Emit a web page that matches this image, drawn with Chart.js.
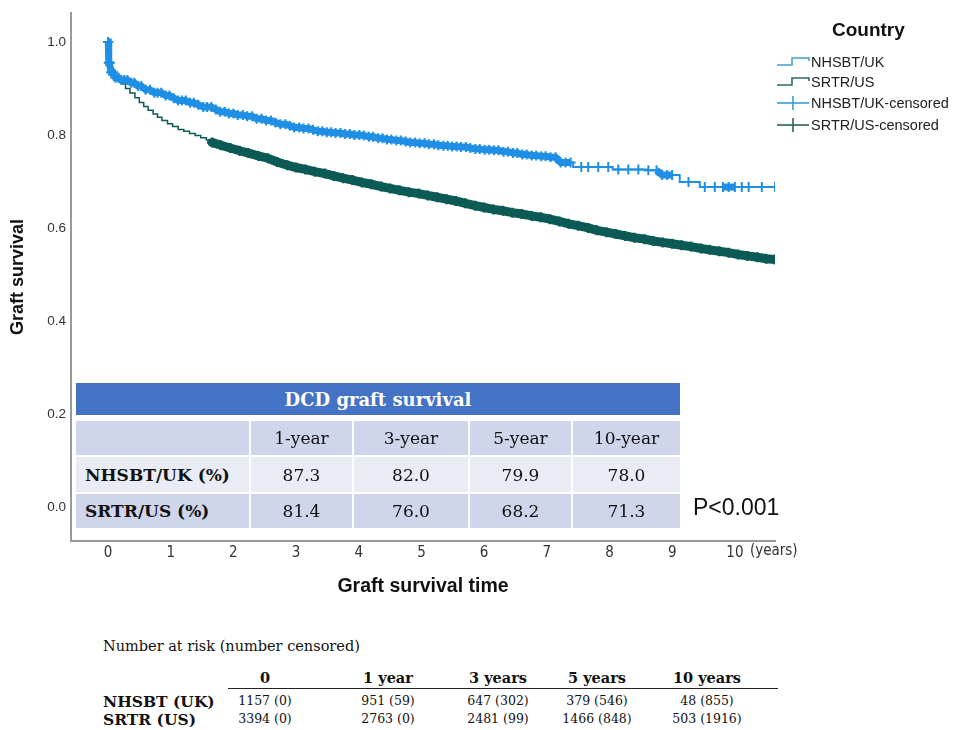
<!DOCTYPE html>
<html>
<head>
<meta charset="utf-8">
<script src="https://cdn.jsdelivr.net/npm/chart.js@4.4.1/dist/chart.umd.min.js"></script>
<style>
  html, body { margin:0; padding:0; background:#fff; }
  body { width:964px; height:730px; position:relative; overflow:hidden; }
  #wrap { position:absolute; left:0; top:0; width:964px; height:600px; }
  .abs { position:absolute; white-space:nowrap; }
  .leg { font-family:"Liberation Sans", Arial, sans-serif; font-size:14.5px; color:#222; }
  .cell { position:absolute; box-sizing:border-box; display:flex; align-items:center; justify-content:center;
          font-family:"DejaVu Serif", "Liberation Serif", serif; font-size:17px; color:#111; }
  .risk { font-family:"DejaVu Serif", "Liberation Serif", serif; color:#111; }
</style>
</head>
<body>
<div id="wrap"><canvas id="c" width="964" height="600"></canvas></div>
<div id="legend"></div>
<div id="dcd"></div>
<div class="abs" style="left:693px;top:494px;font-family:'Liberation Sans',Arial,sans-serif;font-size:23px;color:#111;">P&lt;0.001</div>
<div id="risk"></div>
<script>
// ---------------- data ----------------
const ukTime = [0, 0.01, 0.04, 0.11, 0.2, 0.32, 0.45, 0.59, 0.72, 0.86, 1.0, 1.12, 1.25, 1.39, 1.52, 1.66, 1.78, 1.91, 2.05, 2.18, 2.34, 2.5, 2.61, 2.72, 2.84, 2.95, 3.08, 3.22, 3.35, 3.49, 3.62, 3.75, 3.88, 4.02, 4.15, 4.28, 4.42, 4.55, 4.68, 4.82, 4.95, 5.09, 5.22, 5.35, 5.48, 5.61, 5.73, 5.85, 5.97, 6.09, 6.27, 6.46, 6.6, 6.75, 6.88, 7.0, 7.16, 7.42, 8.05, 8.6, 8.8, 9.12, 9.44, 10.64];
const ukSurv = [1.0, 0.955, 0.935, 0.923, 0.918, 0.912, 0.905, 0.897, 0.891, 0.885, 0.879, 0.874, 0.869, 0.865, 0.86, 0.855, 0.85, 0.846, 0.843, 0.84, 0.835, 0.831, 0.827, 0.823, 0.82, 0.816, 0.814, 0.811, 0.808, 0.806, 0.804, 0.802, 0.8, 0.799, 0.796, 0.793, 0.79, 0.788, 0.786, 0.784, 0.782, 0.78, 0.778, 0.777, 0.775, 0.774, 0.772, 0.77, 0.768, 0.767, 0.764, 0.761, 0.758, 0.756, 0.754, 0.752, 0.741, 0.731, 0.726, 0.724, 0.714, 0.699, 0.688, 0.688];

const usTime = [0, 0.01, 0.04, 0.08, 0.11, 0.16, 0.22, 0.28, 0.35, 0.43, 0.5, 0.57, 0.64, 0.72, 0.79, 0.86, 0.95, 1.03, 1.12, 1.21, 1.3, 1.39, 1.48, 1.57, 1.66, 1.8, 1.95, 2.1, 2.24, 2.4, 2.55, 2.7, 2.86, 3.0, 3.15, 3.3, 3.46, 3.6, 3.75, 3.9, 4.05, 4.2, 4.36, 4.5, 4.65, 4.8, 4.96, 5.1, 5.25, 5.4, 5.55, 5.7, 5.86, 6.0, 6.15, 6.3, 6.45, 6.6, 6.76, 6.9, 7.05, 7.2, 7.35, 7.5, 7.66, 7.8, 7.95, 8.1, 8.25, 8.4, 8.56, 8.7, 8.85, 9.0, 9.15, 9.3, 9.46, 9.6, 9.75, 9.9, 10.05, 10.2, 10.36, 10.5, 10.64];
const usSurv = [1.0, 0.955, 0.935, 0.926, 0.922, 0.916, 0.91, 0.9, 0.89, 0.88, 0.87, 0.861, 0.853, 0.845, 0.838, 0.831, 0.824, 0.818, 0.812, 0.808, 0.803, 0.799, 0.794, 0.789, 0.784, 0.778, 0.772, 0.766, 0.761, 0.755, 0.75, 0.742, 0.735, 0.73, 0.726, 0.721, 0.717, 0.712, 0.707, 0.703, 0.698, 0.694, 0.689, 0.685, 0.681, 0.677, 0.674, 0.67, 0.666, 0.662, 0.658, 0.653, 0.648, 0.644, 0.64, 0.637, 0.633, 0.63, 0.626, 0.623, 0.619, 0.614, 0.609, 0.605, 0.6, 0.595, 0.591, 0.587, 0.583, 0.579, 0.576, 0.572, 0.569, 0.566, 0.563, 0.56, 0.556, 0.553, 0.55, 0.547, 0.543, 0.54, 0.537, 0.534, 0.532];

// censoring times (years)
const ukCensorTimes = [0, 0.005, 0.012, 0.02, 0.03, 0.05, 0.08, 0.12, 0.17, 0.21, 0.26, 0.31, 0.37, 0.42, 0.48, 0.53, 0.6, 0.67, 0.74, 0.79, 0.85, 0.92, 0.98, 1.05, 1.12, 1.18, 1.24, 1.31, 1.37, 1.44, 1.52, 1.58, 1.65, 1.72, 1.79, 1.86, 1.93, 2.0, 2.07, 2.15, 2.22, 2.3, 2.37, 2.45, 2.52, 2.6, 2.67, 2.75, 2.83, 2.9, 2.97, 3.05, 3.12, 3.2, 3.27, 3.35, 3.42, 3.49, 3.56, 3.63, 3.71, 3.78, 3.86, 3.93, 4.01, 4.08, 4.16, 4.23, 4.31, 4.38, 4.45, 4.52, 4.6, 4.67, 4.75, 4.82, 4.9, 4.97, 5.05, 5.12, 5.2, 5.27, 5.35, 5.42, 5.49, 5.56, 5.63, 5.71, 5.78, 5.86, 5.93, 6.01, 6.08, 6.16, 6.23, 6.31, 6.38, 6.46, 6.53, 6.61, 6.68, 6.76, 6.83, 6.91, 6.98, 7.06, 7.14, 7.22, 7.3, 7.38, 7.55, 7.66, 7.82, 7.98, 8.14, 8.3, 8.46, 8.62, 8.75, 8.84, 8.92, 9.0, 9.26, 9.52, 9.68, 9.81, 9.9, 10.0, 10.11, 10.22, 10.43, 10.64];
const usCensorTimes = [1.66, 1.8, 1.95, 2.1, 2.24, 2.4, 2.55, 2.7, 2.86, 3.0, 3.15, 3.3, 3.46, 3.6, 3.75, 3.9, 4.05, 4.2, 4.36, 4.5, 4.65, 4.8, 4.96, 5.1, 5.25, 5.4, 5.55, 5.7, 5.86, 6.0, 6.15, 6.3, 6.45, 6.6, 6.76, 6.9, 7.05, 7.2, 7.35, 7.5, 7.66, 7.8, 7.95, 8.1, 8.25, 8.4, 8.56, 8.7, 8.85, 9.0, 9.15, 9.3, 9.46, 9.6, 9.75, 9.9, 10.05, 10.2, 10.36, 10.5, 10.64];

const xTicks = [0, 1, 2, 3, 4, 5, 6, 7, 8, 9, 10];
const yTicks = [0, 0.2, 0.4, 0.6, 0.8, 1.0];

const seriesNames = ['NHSBT/UK', 'SRTR/US', 'NHSBT/UK-censored', 'SRTR/US-censored'];

const dcdTitle = 'DCD graft survival';
const dcdCols = ['1-year', '3-year', '5-year', '10-year'];
const dcdRows = ['NHSBT/UK (%)', 'SRTR/US (%)'];
const ukPct = [87.3, 82.0, 79.9, 78.0];
const usPct = [81.4, 76.0, 68.2, 71.3];

const riskCols = ['0', '1 year', '3 years', '5 years', '10 years'];
const riskRows = ['NHSBT (UK)', 'SRTR (US)'];
const ukRisk = ['1157 (0)', '951 (59)', '647 (302)', '379 (546)', '48 (855)'];
const usRisk = ['3394 (0)', '2763 (0)', '2481 (99)', '1466 (848)', '503 (1916)'];

// ---------------- helpers ----------------
const UK_COL = '#1f8fe6';
const US_COL = '#0b5a55';
// Kaplan-Meier step value at time t (value holds until the next event time)
function stepAt(times, surv, t) {
  let v = surv[0];
  for (let i = 0; i < times.length; i++) if (times[i] <= t) v = surv[i];
  return v;
}
const curve = (times, surv) => times.map((t, i) => ({x: t, y: surv[i]}));
const marks = (ct, times, surv) => ct.map(t => ({x: t, y: stepAt(times, surv, t)}));
// band is drawn only where censoring marks are dense
function denseColor(limit, col) {
  return ctx => (ctx.p1.parsed.x - ctx.p0.parsed.x <= limit ? col : 'rgba(0,0,0,0)');
}

const yearsPlugin = {
  id: 'yearsLabel',
  afterDraw(chart) {
    const xs = chart.scales.x;
    const ctx = chart.ctx;
    ctx.save();
    ctx.font = '15px "Liberation Sans Narrow", "DejaVu Sans Condensed", Arial, sans-serif';
    ctx.fillStyle = '#333';
    ctx.textBaseline = 'top';
    ctx.textAlign = 'left';
    const px = xs.getPixelForValue(xTicks[xTicks.length - 1]);
    ctx.fillText('(years)', px + 15, xs.top + 3);
    ctx.restore();
  }
};

new Chart(document.getElementById('c'), {
  type: 'line',
  data: {
    datasets: [
      { label: seriesNames[2], data: marks(ukCensorTimes, ukTime, ukSurv), showLine: true,
        borderColor: UK_COL, backgroundColor: UK_COL, pointStyle: 'cross', pointRadius: 5, pointBorderWidth: 2,
        pointBorderColor: UK_COL,
        borderWidth: 7, segment: { borderColor: denseColor(0.1, UK_COL) } },
      { label: seriesNames[0], data: curve(ukTime, ukSurv), stepped: 'before', borderColor: UK_COL,
        borderWidth: 2, pointRadius: 0 },
      { label: seriesNames[3], data: marks(usCensorTimes, usTime, usSurv), showLine: true,
        borderColor: US_COL, backgroundColor: US_COL, pointStyle: 'cross', pointRadius: 5, pointBorderWidth: 2.5,
        pointBorderColor: US_COL,
        borderWidth: 9, borderCapStyle: 'round', segment: { borderColor: denseColor(0.3, US_COL) } },
      { label: seriesNames[1], data: curve(usTime, usSurv), stepped: 'before', borderColor: US_COL,
        borderWidth: 1.5, pointRadius: 0 }
    ]
  },
  options: {
    responsive: false,
    animation: false,
    devicePixelRatio: 1,
    layout: { padding: { left: 0, right: 189, top: 10, bottom: 2 } },
    plugins: { legend: { display: false }, tooltip: { enabled: false } },
    scales: {
      x: {
        type: 'linear', min: -0.59, max: 10.64,
        afterBuildTicks: s => { s.ticks = xTicks.map(v => ({value: v})); },
        afterFit: s => { s.height = 57; },
        grid: { display: false, drawTicks: false },
        border: { display: true, color: '#9a9a9a', width: 2 },
        ticks: { padding: 3, color: '#333', maxRotation: 0, autoSkip: false,
                 font: { family: '"Liberation Sans Narrow", "DejaVu Sans Condensed", Arial, sans-serif', size: 15 } },
        title: { display: true, text: 'Graft survival time', color: '#111', padding: { top: 0, bottom: 1 },
                 font: { family: '"Liberation Sans", Arial, sans-serif', size: 19.5, weight: 'bold', lineHeight: 1.1 } }
      },
      y: {
        type: 'linear', min: -0.073, max: 1.062,
        afterBuildTicks: s => { s.ticks = yTicks.map(v => ({value: v})); },
        afterFit: s => { s.width = 71; },
        grid: { display: false, drawTicks: false },
        border: { display: true, color: '#9a9a9a', width: 2 },
        ticks: { padding: 5, color: '#333', callback: v => v.toFixed(1),
                 font: { family: '"Liberation Sans", Arial, sans-serif', size: 13.5 } },
        title: { display: true, text: 'Graft survival', color: '#111', padding: { top: 7, bottom: 0 },
                 font: { family: '"Liberation Sans", Arial, sans-serif', size: 18, weight: 'bold', lineHeight: 1.2 } }
      }
    }
  },
  plugins: [yearsPlugin]
});

// ---------------- legend (HTML) ----------------
(function () {
  const L = document.getElementById('legend');
  let html = '<div class="abs" style="left:832px;top:19px;font-family:\'Liberation Sans\',Arial,sans-serif;font-size:19px;font-weight:bold;color:#111;">Country</div>';
  const rowsY = [62, 82, 103, 125];
  const iconCols = ['#4a9fd2', '#2e6a68', '#3a9ad8', '#2f5f5c'];
  seriesNames.forEach((name, i) => {
    const y = rowsY[i];
    let svg;
    if (i < 2) {
      svg = '<svg width="34" height="16" style="position:absolute;left:776px;top:' + (y - 8) + 'px"><polyline points="1,11 16,11 16,4 33,4 33,7" fill="none" stroke="' + iconCols[i] + '" stroke-width="1.6"/></svg>';
    } else {
      svg = '<svg width="34" height="16" style="position:absolute;left:776px;top:' + (y - 8) + 'px"><line x1="1" y1="8" x2="33" y2="8" stroke="' + iconCols[i] + '" stroke-width="1.6"/><line x1="17" y1="1" x2="17" y2="15" stroke="' + iconCols[i] + '" stroke-width="1.6"/></svg>';
    }
    html += svg + '<div class="abs leg" style="left:811px;top:' + (y - 9) + 'px;line-height:18px;">' + name + '</div>';
  });
  L.innerHTML = html;
})();

// ---------------- DCD table (HTML) ----------------
(function () {
  const D = document.getElementById('dcd');
  const colX = [76, 251, 354, 470, 573];
  const colW = [173, 101, 114, 101, 107];
  const rowY = [421, 457, 494];
  const rowH = [34, 35, 34];
  const rowBg = ['#cfd5ea', '#e9ebf5', '#cfd5ea'];
  let html = '<div class="cell" style="left:76px;top:383px;width:604px;height:32px;background:#4472c4;color:#fff;font-weight:bold;font-size:18px;padding-left:0;">' + dcdTitle + '</div>';
  const rows = [['', ...dcdCols], [dcdRows[0], ...ukPct.map(v => v.toFixed(1))], [dcdRows[1], ...usPct.map(v => v.toFixed(1))]];
  rows.forEach((r, ri) => {
    r.forEach((txt, ci) => {
      const left = ci === 0;
      html += '<div class="cell" style="left:' + colX[ci] + 'px;top:' + rowY[ri] + 'px;width:' + colW[ci] + 'px;height:' + rowH[ri] + 'px;background:' + rowBg[ri] + ';' +
        (left ? 'justify-content:flex-start;padding-left:9px;font-weight:bold;' : '') + '">' + txt + '</div>';
    });
  });
  D.innerHTML = html;
})();

// ---------------- number at risk (HTML) ----------------
(function () {
  const R = document.getElementById('risk');
  const cx = [265, 388, 498, 597, 707];
  let html = '<div class="abs risk" style="left:103px;top:638px;font-size:14.5px;">Number at risk (number censored)</div>';
  riskCols.forEach((c, i) => {
    html += '<div class="abs risk" style="left:' + (cx[i] - 60) + 'px;width:120px;text-align:center;top:669px;font-size:14.5px;font-weight:bold;">' + c + '</div>';
  });
  html += '<div class="abs" style="left:228px;top:688px;width:550px;height:0;border-top:1.5px solid #222;"></div>';
  const vals = [ukRisk, usRisk];
  riskRows.forEach((name, ri) => {
    const top = ri === 0 ? 692 : 710;
    html += '<div class="abs risk" style="left:103px;top:' + top + 'px;font-size:15.5px;font-weight:bold;">' + name + '</div>';
    vals[ri].forEach((v, i) => {
      html += '<div class="abs risk" style="left:' + (cx[i] - 60) + 'px;width:120px;text-align:center;top:' + (top + 1) + 'px;font-size:12.5px;">' + v + '</div>';
    });
  });
  R.innerHTML = html;
})();
</script>
</body>
</html>
